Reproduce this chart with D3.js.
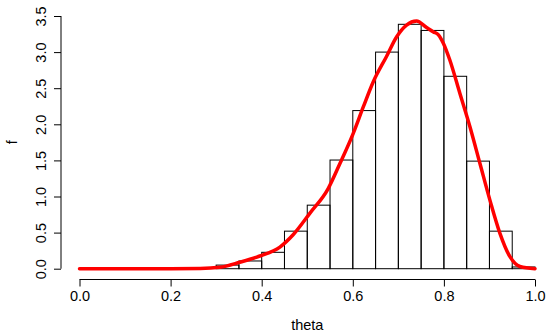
<!DOCTYPE html>
<html>
<head>
<meta charset="utf-8">
<script src="https://cdn.jsdelivr.net/npm/d3@7"></script>
<style>
  html, body { margin: 0; padding: 0; background: #fff; }
  svg { display: block; }
  text { font-family: "Liberation Sans", Arial, Helvetica, sans-serif; }
</style>
</head>
<body>
<svg id="chart" width="546" height="332"></svg>
<script>
// Histogram bins (breaks) and densities
const binStarts = [0.30, 0.35, 0.40, 0.45, 0.50, 0.55, 0.60, 0.65, 0.70, 0.75, 0.80, 0.85, 0.90, 0.95];
const binWidth = 0.05;
const binDensity = [0.05, 0.107, 0.227, 0.52, 0.88, 1.505, 2.19, 3.0, 3.385, 3.30, 2.665, 1.49, 0.52, 0.024];

// Density curve
const curveTheta = [0, 0.1, 0.2, 0.265, 0.308, 0.352, 0.396, 0.44, 0.469, 0.506, 0.546, 0.572, 0.601, 0.623, 0.645, 0.674, 0.696, 0.718, 0.740, 0.762, 0.777, 0.788, 0.799, 0.813, 0.835, 0.857, 0.879, 0.901, 0.923, 0.945, 0.967, 1.0];
const curveDens  = [0, 0, 0, 0.003, 0.02, 0.09, 0.176, 0.30, 0.47, 0.77, 1.11, 1.46, 1.875, 2.24, 2.59, 2.94, 3.21, 3.375, 3.43, 3.34, 3.28, 3.24, 3.12, 2.89, 2.43, 1.97, 1.46, 0.95, 0.49, 0.166, 0.03, 0.0];

// Tick labels
const xTicks = [0, 0.2, 0.4, 0.6, 0.8, 1.0];
const yTicks = [0, 0.5, 1.0, 1.5, 2.0, 2.5, 3.0, 3.5];
const xLabel = "theta";
const yLabel = "f";

const svg = d3.select("#chart");
const x = d3.scaleLinear().domain([0, 1]).range([79.5, 535]);
const y = d3.scaleLinear().domain([0, 3.5]).range([268.7, 16]);

// Bars
svg.append("g").selectAll("rect")
  .data(binStarts.map((s, i) => ({ s, d: binDensity[i] })))
  .join("rect")
  .attr("x", d => x(d.s))
  .attr("width", d => x(d.s + binWidth) - x(d.s))
  .attr("y", d => y(d.d))
  .attr("height", d => y(0) - y(d.d))
  .attr("fill", "none")
  .attr("stroke", "#000")
  .attr("stroke-width", 1);

// Density curve
const line = d3.line()
  .x((d, i) => x(curveTheta[i]))
  .y(d => y(d))
  .curve(d3.curveMonotoneX);
svg.append("path")
  .attr("d", line(curveDens))
  .attr("fill", "none")
  .attr("stroke", "#ff0000")
  .attr("stroke-width", 3.5)
  .attr("stroke-linejoin", "round")
  .attr("stroke-linecap", "round");

// X axis
const xAxis = d3.axisBottom(x).tickValues(xTicks).tickFormat(d3.format(".1f")).tickSize(7).tickPadding(4);
const gx = svg.append("g").attr("transform", "translate(0,279.5)").call(xAxis);
gx.select(".domain").attr("d", `M${x(0)},0H${x(1)}`);
gx.selectAll("text").attr("font-size", "14.5px").attr("fill", "#000").attr("font-family", "Liberation Sans, Arial, sans-serif");
gx.selectAll("line, path").attr("stroke", "#000");

// Y axis
const yAxis = d3.axisLeft(y).tickValues(yTicks).tickFormat(d3.format(".1f")).tickSize(7);
const gy = svg.append("g").attr("transform", "translate(61,0)").call(yAxis);
gy.select(".domain").attr("d", `M0,${y(0)}V${y(3.5)}`);
gy.selectAll("line, path").attr("stroke", "#000");
gy.selectAll("text")
  .attr("font-size", "14.5px")
  .attr("fill", "#000")
  .attr("font-family", "Liberation Sans, Arial, sans-serif")
  .attr("x", null).attr("dy", null)
  .attr("text-anchor", "middle")
  .attr("transform", "translate(-15.5,0) rotate(-90)")
  .attr("y", 0);

// Axis titles
svg.append("text")
  .attr("x", (x(0) + x(1)) / 2)
  .attr("y", 330)
  .attr("text-anchor", "middle")
  .attr("font-size", "14.5px")
  .text(xLabel);
svg.append("text")
  .attr("transform", `translate(17,${(y(0) + y(3.5)) / 2}) rotate(-90)`)
  .attr("text-anchor", "middle")
  .attr("font-size", "14.5px")
  .text(yLabel);
</script>
</body>
</html>
